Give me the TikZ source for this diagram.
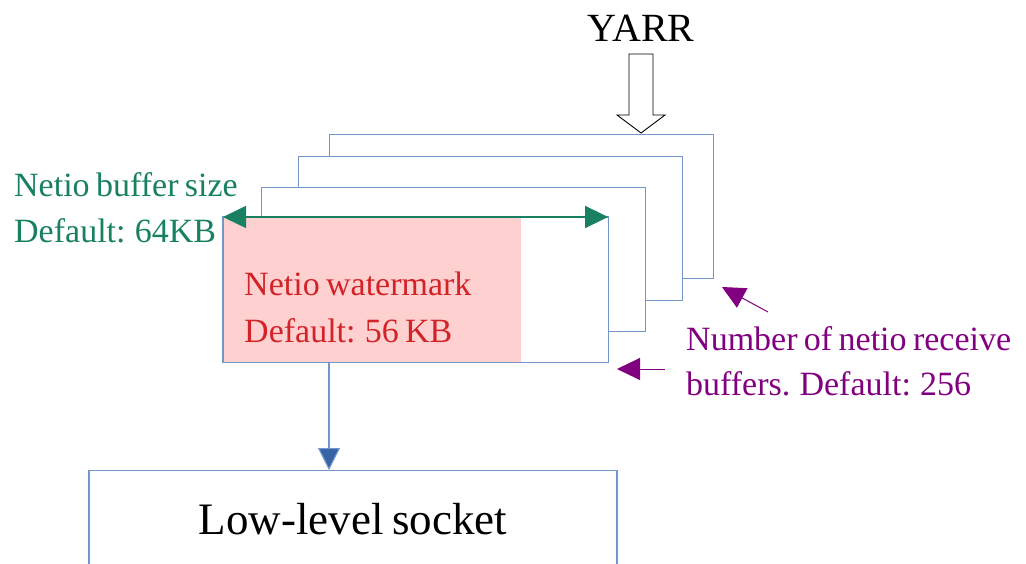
\documentclass[tikz,border=0pt]{standalone}
\usepackage{fontspec}
\setmainfont[WordSpace=0.75]{Liberation Serif}
\usetikzlibrary{arrows.meta,calc}
\definecolor{boxblue}{RGB}{115,150,205}
\definecolor{arrblue}{RGB}{55,100,165}
\definecolor{pinkfill}{RGB}{255,208,208}
\definecolor{redtxt}{RGB}{210,35,40}
\definecolor{greentxt}{RGB}{25,128,98}
\definecolor{purptxt}{RGB}{128,0,128}
\tikzset{
  buf/.style={draw=boxblue, line width=1.1pt, fill=white, rectangle, inner sep=0pt,
    minimum width=384pt, minimum height=144pt, anchor=north west},
  lbl/.style={inner sep=0pt, anchor=base west, font=\fontsize{34}{40}\selectfont},
  tipA/.style={-{Triangle[length=23pt,width=22pt]}},
}
\begin{document}
\begin{tikzpicture}[x=1pt,y=-1pt]
\useasboundingbox (0,0) rectangle (1026,564);
\clip (0,0) rectangle (1026,564);
% stacked buffers
\node[buf] (b4) at (329,134) {};
\node[buf] (b3) at (298,156) {};
\node[buf] (b2) at (261,187) {};
\node[buf, fill=none] (front) at (223,217) {};
\fill[white] (front.north west) rectangle (front.south east);
\fill[pinkfill] (front.north west) rectangle ($(front.south west)+(298,0)$);
\draw[boxblue, line width=1.1pt] (front.north west) rectangle (front.south east);
% YARR
\node[inner sep=0pt, anchor=base, font=\fontsize{40}{44}\selectfont] (yarr) at (641,42) {YARR};
\coordinate (tipY) at (641,133);
\draw[black, line width=0.9pt, fill=white]
  ($(tipY)+(-12,-79)$) -- ($(tipY)+(12,-79)$) -- ($(tipY)+(12,-18)$) -- ($(tipY)+(24,-18)$)
  -- (tipY) -- ($(tipY)+(-24,-18)$) -- ($(tipY)+(-12,-18)$) -- cycle;
% watermark text
\node[lbl, text=redtxt] (wm1) at (244,295) {Netio watermark};
\node[lbl, text=redtxt] (wm2) at (244,342) {Default: 56 KB};
% buffer size
\draw[greentxt, line width=1.6pt, {Triangle[length=23pt,width=22pt]}-{Triangle[length=23pt,width=22pt]}]
  (front.north west) -- (front.north east);
\node[lbl, text=greentxt] (bs1) at (14,197) {Netio buffer size};
\node[lbl, text=greentxt] (bs2) at (14,243) {Default: 64KB};
% number of buffers
\node[lbl, text=purptxt] (nb1) at (686,350) {Number of netio receive};
\node[lbl, text=purptxt] (nb2) at (686,395) {buffers. Default: 256};
\coordinate (p1s) at (768,312);
\coordinate (p1e) at (722,287);
\coordinate (p2s) at (665,369);
\coordinate (p2e) at (617,369);
\draw[purptxt, line width=1pt, tipA] (p1s) -- (p1e);
\draw[purptxt, line width=1pt, tipA] (p2s) -- (p2e);
% low-level socket
\node[draw=boxblue, line width=1.1pt, anchor=north, inner sep=0pt, minimum width=528pt,
  text height=64pt, text depth=100pt, font=\fontsize{45}{50}\selectfont] (sock) at (353,470) {Low-level socket};
\coordinate (ax) at (329,0);
\draw[boxblue, line width=1.1pt, -{Triangle[length=22pt,width=22pt,fill=arrblue]}, draw=boxblue]
  (front.south -| ax) -- (sock.north -| ax);
\end{tikzpicture}
\end{document}
